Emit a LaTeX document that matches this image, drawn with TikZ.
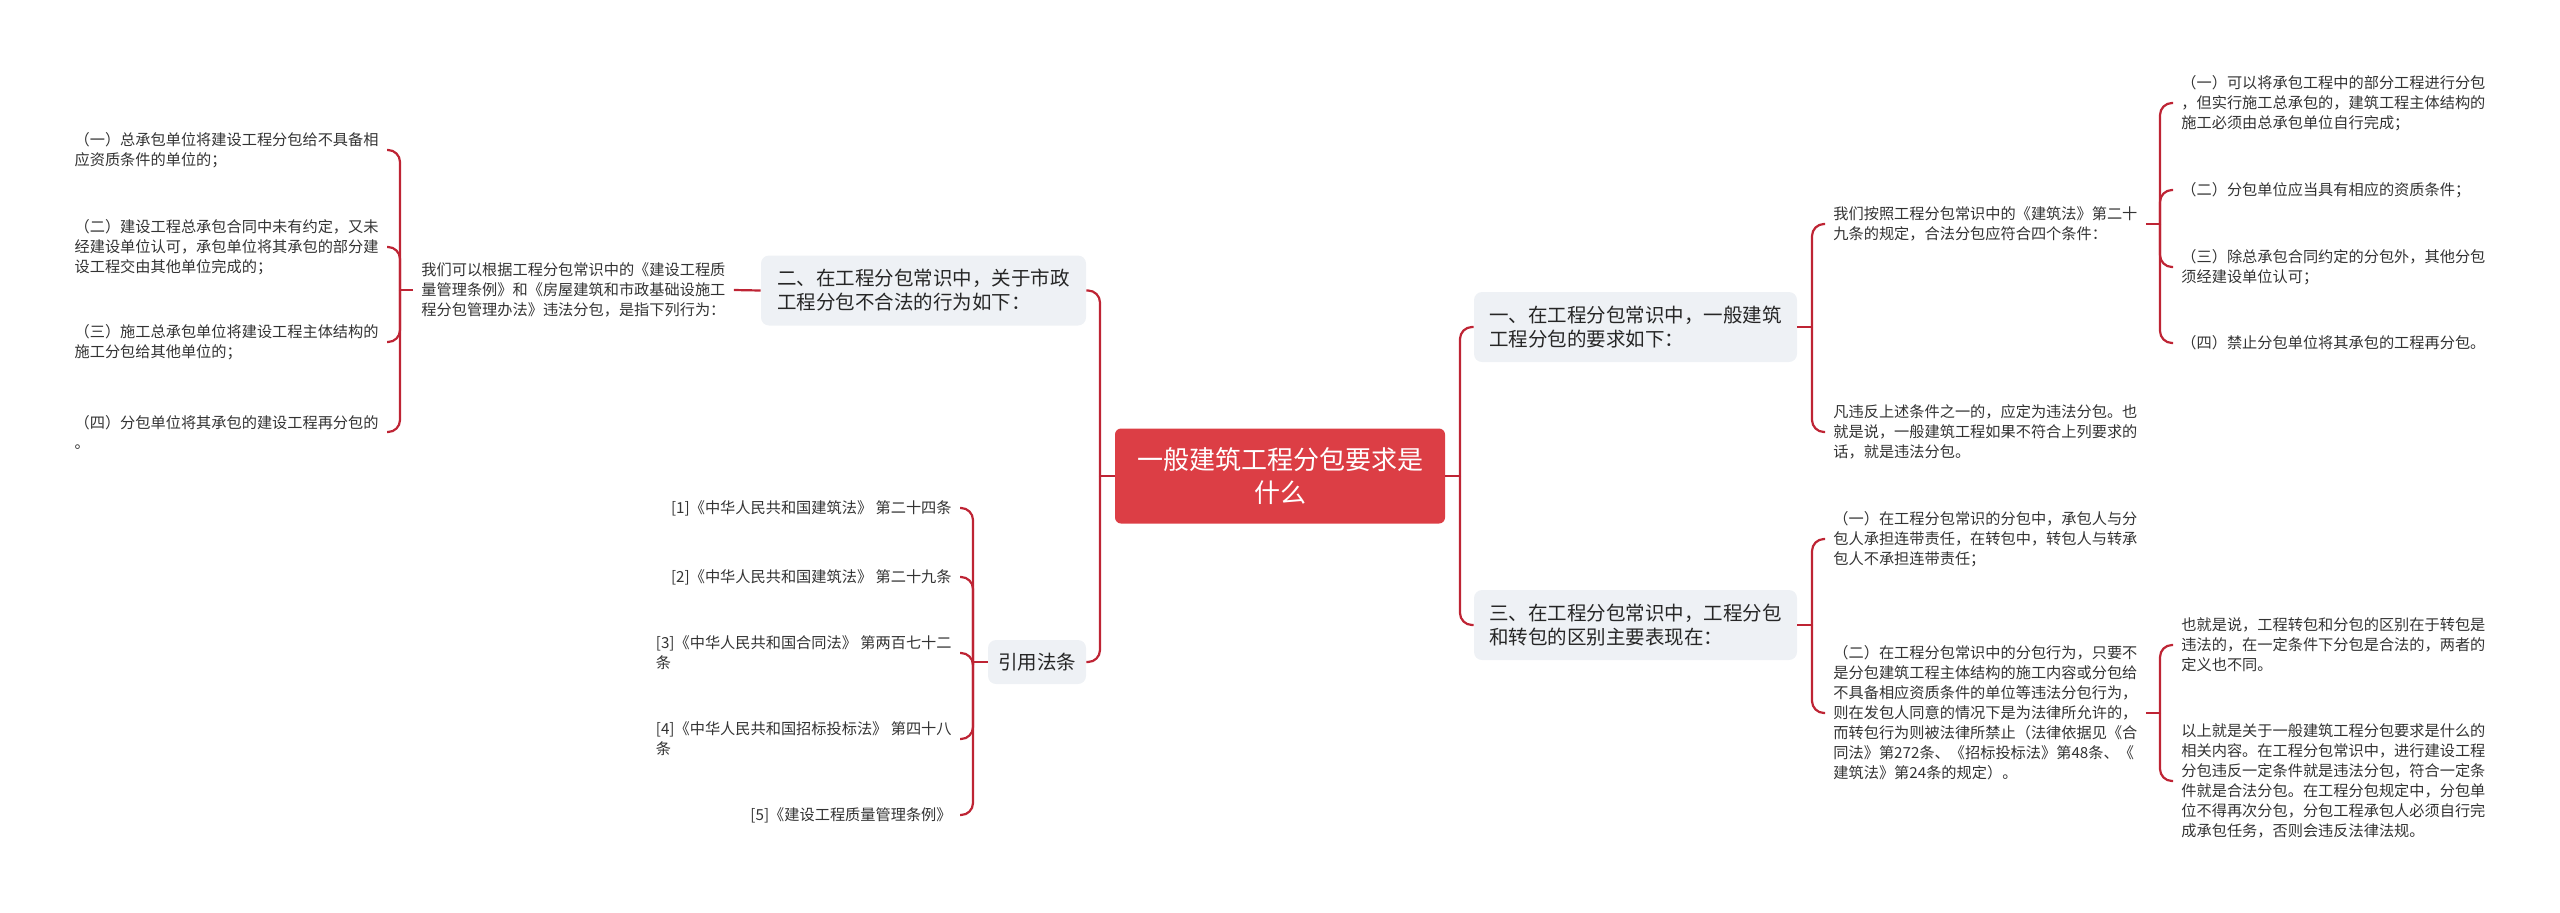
\documentclass[tikz,border=0pt]{standalone}
\usepackage{fontspec}
\setmainfont{Noto Sans CJK SC}
\definecolor{linkred}{RGB}{190,36,52}
\definecolor{rootred}{RGB}{220,62,69}
\definecolor{topicgray}{RGB}{238,241,245}
\definecolor{txt}{RGB}{51,51,51}
\begin{document}
\begin{tikzpicture}[x=0.5pt,y=-0.5pt,
    link/.style={draw=linkred,line width=1.1pt,rounded corners=6pt},
    root/.style={fill=rootred,rounded corners=3pt,text=white,align=center,
      minimum width=165pt,minimum height=47.5pt,font=\fontsize{13}{16.5}\selectfont},
    topic/.style={fill=topicgray,rounded corners=4pt,text=black!85,align=left,
      font=\fontsize{9.75}{12}\selectfont,inner xsep=5pt},
    leaf/.style={text=txt,align=left,font=\fontsize{7.6}{10}\selectfont,
      inner xsep=4pt,inner ysep=1pt}]
    \useasboundingbox (0,0) rectangle (2560,912);

    % centre
    \node[root] (root) at (1280,476) {一般建筑工程分包要求是\\什么};

    % first level
    \node[topic,minimum width=161.5pt,minimum height=35pt] (t1) at (1635.5,327)
      {一、在工程分包常识中，一般建筑\\工程分包的要求如下：};
    \node[topic,minimum width=161.5pt,minimum height=35pt] (t3) at (1635.5,625)
      {三、在工程分包常识中，工程分包\\和转包的区别主要表现在：};
    \node[topic,minimum width=162.5pt,minimum height=35pt] (t2) at (923.5,290.5)
      {二、在工程分包常识中，关于市政\\工程分包不合法的行为如下：};
    \node[topic,minimum width=49pt,minimum height=22pt,align=center] (cite) at (1037,662) {引用法条};

    % right side
    \node[leaf,anchor=west] (b1) at (1825,224)
      {我们按照工程分包常识中的《建筑法》第二十\\九条的规定，合法分包应符合四个条件：};
    \node[leaf,anchor=west] (b2) at (1825,432)
      {凡违反上述条件之一的，应定为违法分包。也\\就是说，一般建筑工程如果不符合上列要求的\\话，就是违法分包。};
    \node[leaf,anchor=west] (c1) at (2173,103)
      {（一）可以将承包工程中的部分工程进行分包\\，但实行施工总承包的，建筑工程主体结构的\\施工必须由总承包单位自行完成；};
    \node[leaf,anchor=west] (c2) at (2173,190) {（二）分包单位应当具有相应的资质条件；};
    \node[leaf,anchor=west] (c3) at (2173,267)
      {（三）除总承包合同约定的分包外，其他分包\\须经建设单位认可；};
    \node[leaf,anchor=west] (c4) at (2173,343) {（四）禁止分包单位将其承包的工程再分包。};
    \node[leaf,anchor=west] (d1) at (1825,539)
      {（一）在工程分包常识的分包中，承包人与分\\包人承担连带责任，在转包中，转包人与转承\\包人不承担连带责任；};
    \node[leaf,anchor=west] (d2) at (1825,713)
      {（二）在工程分包常识中的分包行为，只要不\\是分包建筑工程主体结构的施工内容或分包给\\不具备相应资质条件的单位等违法分包行为，\\则在发包人同意的情况下是为法律所允许的，\\而转包行为则被法律所禁止（法律依据见《合\\同法》第272条、《招标投标法》第48条、《\\建筑法》第24条的规定）。};
    \node[leaf,anchor=west] (e1) at (2173,645)
      {也就是说，工程转包和分包的区别在于转包是\\违法的，在一定条件下分包是合法的，两者的\\定义也不同。};
    \node[leaf,anchor=west] (e2) at (2173,781)
      {以上就是关于一般建筑工程分包要求是什么的\\相关内容。在工程分包常识中，进行建设工程\\分包违反一定条件就是违法分包，符合一定条\\件就是合法分包。在工程分包规定中，分包单\\位不得再次分包，分包工程承包人必须自行完\\成承包任务，否则会违反法律法规。};

    % left side
    \node[leaf,anchor=west] (l3) at (413,290)
      {我们可以根据工程分包常识中的《建设工程质\\量管理条例》和《房屋建筑和市政基础设施工\\程分包管理办法》违法分包，是指下列行为：};
    \node[leaf,anchor=east] (a1) at (387,150)
      {（一）总承包单位将建设工程分包给不具备相\\应资质条件的单位的；};
    \node[leaf,anchor=east] (a2) at (387,247)
      {（二）建设工程总承包合同中未有约定，又未\\经建设单位认可，承包单位将其承包的部分建\\设工程交由其他单位完成的；};
    \node[leaf,anchor=east] (a3) at (387,342)
      {（三）施工总承包单位将建设工程主体结构的\\施工分包给其他单位的；};
    \node[leaf,anchor=east] (a4) at (387,432)
      {（四）分包单位将其承包的建设工程再分包的\\。};
    \node[leaf,anchor=east] (r1) at (960,508) {[1]《中华人民共和国建筑法》 第二十四条};
    \node[leaf,anchor=east] (r2) at (960,577) {[2]《中华人民共和国建筑法》 第二十九条};
    \node[leaf,anchor=east] (r3) at (960,653) {[3]《中华人民共和国合同法》 第两百七十二\\条};
    \node[leaf,anchor=east] (r4) at (960,739) {[4]《中华人民共和国招标投标法》 第四十八\\条};
    \node[leaf,anchor=east] (r5) at (960,815) {[5]《建设工程质量管理条例》};

    % connectors
    \draw[link] (root.east) -- (1460,476);
    \draw[link] (1460,476) |- (t1.west);
    \draw[link] (1460,476) |- (t3.west);
    \draw[link] (root.west) -- (1100,476);
    \draw[link] (1100,476) |- (t2.east);
    \draw[link] (1100,476) |- (cite.east);

    \draw[link] (t1.east) -- (1812,327);
    \draw[link] (1812,327) |- (b1.west);
    \draw[link] (1812,327) |- (b2.west);
    \draw[link] (b1.east) -- (2160,224);
    \foreach \n in {c1,c2,c3,c4}
      \draw[link] (2160,224) |- (\n.west);

    \draw[link] (t3.east) -- (1812,625);
    \draw[link] (1812,625) |- (d1.west);
    \draw[link] (1812,625) |- (d2.west);
    \draw[link] (d2.east) -- (2160,713);
    \draw[link] (2160,713) |- (e1.west);
    \draw[link] (2160,713) |- (e2.west);

    \draw[link] (t2.west) -- (l3.east);
    \draw[link] (l3.west) -- (400,290);
    \foreach \n in {a1,a2,a3,a4}
      \draw[link] (400,290) |- (\n.east);

    \draw[link] (cite.west) -- (973,662);
    \foreach \n in {r1,r2,r3,r4,r5}
      \draw[link] (973,662) |- (\n.east);
\end{tikzpicture}
\end{document}
